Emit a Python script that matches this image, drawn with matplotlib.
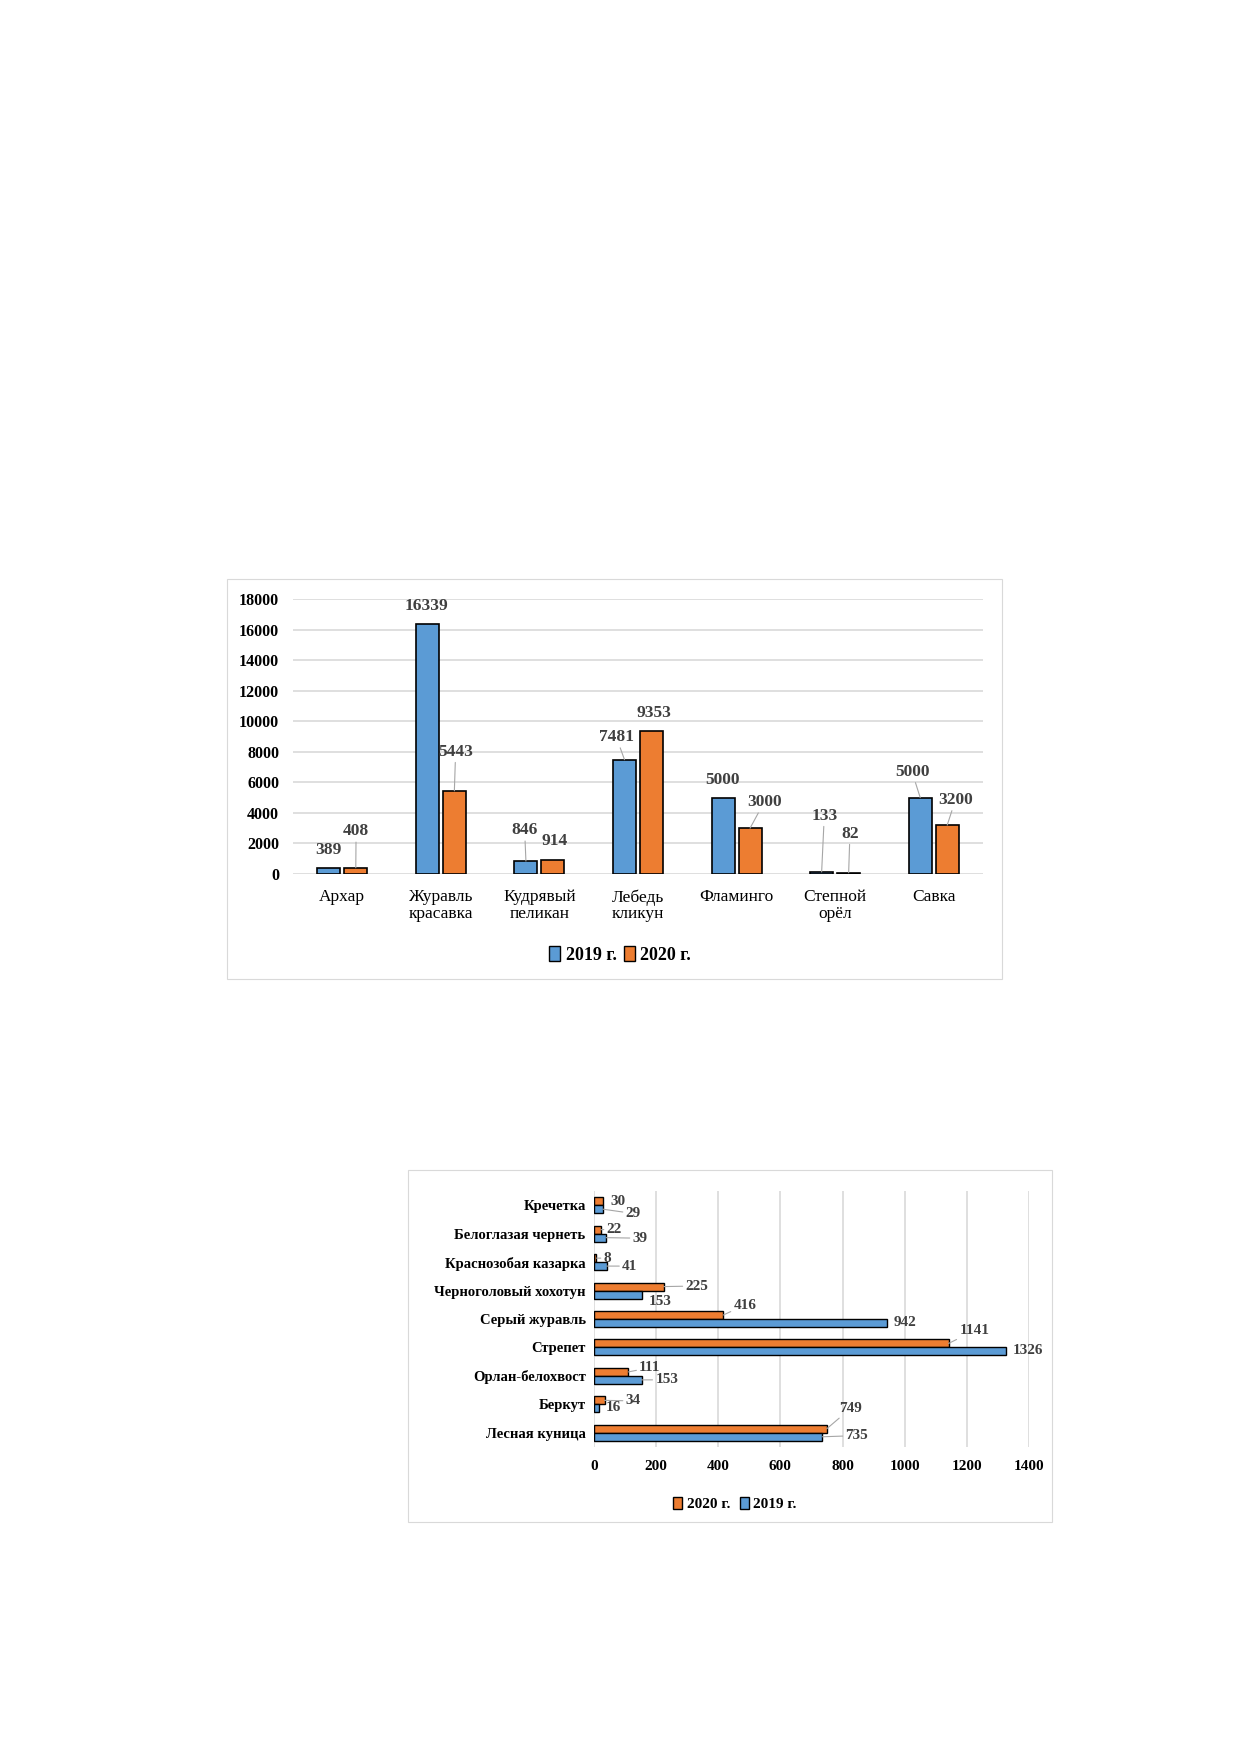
import matplotlib
matplotlib.use("Agg")
import matplotlib.pyplot as plt
from matplotlib.patches import Rectangle, Patch
import numpy as np

plt.rcParams['font.family'] = ['Liberation Serif', 'DejaVu Serif']

# ---------------- data: chart 1 ----------------
cats1 = ["Архар", "Журавль\nкрасавка", "Кудрявый\nпеликан", "Лебедь\nкликун",
         "Фламинго", "Степной\nорёл", "Савка"]
v2019_1 = [389, 16339, 846, 7481, 5000, 133, 5000]
v2020_1 = [408, 5443, 914, 9353, 3000, 82, 3200]
yticks1 = [0, 2000, 4000, 6000, 8000, 10000, 12000, 14000, 16000, 18000]

# label placement (positions only): (dx in category units, y in data units, leader?)
lab2019_1 = [(-0.14, 1543, False), (-0.15, 17560, False), (-0.15, 2865, True),
             (-0.22, 8963, True), (-0.14, 6171, False), (-0.11, 3820, True),
             (-0.22, 6686, True)]
lab2020_1 = [(0.14, 2792, True), (0.15, 8008, True), (0.15, 2130, False),
             (0.16, 10506, False), (0.28, 4702, True), (0.15, 2645, True),
             (0.22, 4849, True)]

# ---------------- data: chart 2 ----------------
cats2 = ["Лесная куница", "Беркут", "Орлан-белохвост", "Стрепет", "Серый журавль",
         "Черноголовый хохотун", "Краснозобая казарка", "Белоглазая чернеть", "Кречетка"]
v2020_2 = [749, 34, 111, 1141, 416, 225, 8, 22, 30]
v2019_2 = [735, 16, 153, 1326, 942, 153, 41, 39, 29]
xticks2 = [0, 200, 400, 600, 800, 1000, 1200, 1400]

# label placement (positions only): (x in data units, dy in category units, leader?)
lab2020_2 = [(824, 0.84, True), (126, 0.12, True), (180, 0.29, True), (1224, 0.59, True),
             (486, 0.49, True), (331, 0.16, True), (43, 0.14, True), (65, 0.16, True),
             (76, 0.14, False)]
lab2019_2 = [(846, -0.10, True), (61, -0.12, False), (234, -0.14, True), (1396, -0.12, False),
             (1000, -0.14, False), (212, -0.39, False), (115, -0.14, True), (148, -0.16, True),
             (126, -0.29, True)]

BLUE = "#5B9BD5"
ORANGE = "#ED7D31"
GRID = "#D9D9D9"
LEAD = "#A6A6A6"
LABC = "#404040"

W, H = 1240, 1754
fig = plt.figure(figsize=(W / 100, H / 100), dpi=100)
fig.patch.set_facecolor("white")

def fx(px):
    return px / W

def fy(py):
    return 1 - py / H

# frames
for (x0, y0, x1, y1) in [(227, 579, 1002, 979), (408, 1170, 1052, 1522)]:
    fig.patches.append(Rectangle((fx(x0), fy(y1)), fx(x1) - fx(x0), fy(y0) - fy(y1),
                                 transform=fig.transFigure, fill=False,
                                 edgecolor="#D9D9D9", linewidth=0.8))

# ---------------- chart 1 ----------------
ax1 = fig.add_axes([fx(293), fy(874), fx(983) - fx(293), fy(599) - fy(874)])
x = np.arange(len(cats1))
bw = 0.234
off = 0.137
ax1.bar(x - off, v2019_1, bw, color=BLUE, edgecolor="black", linewidth=1.2, zorder=3)
ax1.bar(x + off, v2020_1, bw, color=ORANGE, edgecolor="black", linewidth=1.2, zorder=3)
ax1.set_xlim(-0.5, len(cats1) - 0.5)
ax1.set_ylim(0, 18000)
ax1.set_yticks(yticks1)
ax1.set_yticklabels([str(t) for t in yticks1], fontsize=11.5, fontweight="bold")
ax1.set_xticks(x)
ax1.set_xticklabels(cats1, fontsize=12.5, linespacing=1.05)
ax1.yaxis.grid(True, color=GRID, linewidth=1.2, zorder=0)
for s in ax1.spines.values():
    s.set_visible(False)
ax1.tick_params(axis="both", length=0)
ax1.tick_params(axis="x", pad=11)
ax1.tick_params(axis="y", pad=10)

for i in range(len(cats1)):
    for vals, labs, sgn in [(v2019_1, lab2019_1, -1), (v2020_1, lab2020_1, 1)]:
        dx, ly, lead = labs[i]
        xb = i + sgn * off
        if lead:
            ax1.annotate(str(vals[i]), xy=(xb, vals[i]), xytext=(i + dx, ly),
                         ha="center", va="center", fontsize=12.5, fontweight="bold",
                         color=LABC, zorder=5,
                         arrowprops=dict(arrowstyle="-", color=LEAD, lw=0.8,
                                         shrinkA=0, shrinkB=0))
        else:
            ax1.text(i + dx, ly, str(vals[i]), ha="center", va="center",
                     fontsize=12.5, fontweight="bold", color=LABC, zorder=5)

h1 = [Patch(facecolor=BLUE, edgecolor="black", label="2019 г."),
      Patch(facecolor=ORANGE, edgecolor="black", label="2020 г.")]
fig.legend(handles=h1, loc="center", bbox_to_anchor=(fx(620), fy(955)), ncol=2,
           frameon=False, prop={"size": 13, "weight": "bold"},
           handlelength=0.6, handleheight=0.9, handletextpad=0.3, columnspacing=0.4)

# ---------------- chart 2 ----------------
ax2 = fig.add_axes([fx(594), fy(1447), fx(1029) - fx(594), fy(1191) - fy(1447)])
y = np.arange(len(cats2))
bh = 0.28
ax2.barh(y + bh / 2, v2020_2, bh, color=ORANGE, edgecolor="black", linewidth=1.0, zorder=3)
ax2.barh(y - bh / 2, v2019_2, bh, color=BLUE, edgecolor="black", linewidth=1.0, zorder=3)
ax2.set_ylim(-0.5, len(cats2) - 0.5)
ax2.set_xlim(0, 1400)
ax2.set_xticks(xticks2)
ax2.set_xticklabels([str(t) for t in xticks2], fontsize=11, fontweight="bold")
ax2.set_yticks(y)
ax2.set_yticklabels(cats2, fontsize=10.5, fontweight="bold")
ax2.xaxis.grid(True, color=GRID, linewidth=1.2, zorder=0)
for s in ax2.spines.values():
    s.set_visible(False)
ax2.tick_params(axis="both", length=0)
ax2.tick_params(axis="x", pad=9)
ax2.tick_params(axis="y", pad=6)

for j in range(len(cats2)):
    for vals, labs, sgn in [(v2020_2, lab2020_2, 1), (v2019_2, lab2019_2, -1)]:
        lx, dy, lead = labs[j]
        yb = j + sgn * bh / 2
        if lead:
            ax2.annotate(str(vals[j]), xy=(vals[j], yb), xytext=(lx, j + dy),
                         ha="center", va="center", fontsize=11, fontweight="bold",
                         color=LABC, zorder=5,
                         arrowprops=dict(arrowstyle="-", color=LEAD, lw=0.8,
                                         shrinkA=0, shrinkB=0))
        else:
            ax2.text(lx, j + dy, str(vals[j]), ha="center", va="center",
                     fontsize=11, fontweight="bold", color=LABC, zorder=5)

h2 = [Patch(facecolor=ORANGE, edgecolor="black", label="2020 г."),
      Patch(facecolor=BLUE, edgecolor="black", label="2019 г.")]
fig.legend(handles=h2, loc="center", bbox_to_anchor=(fx(735), fy(1504)), ncol=2,
           frameon=False, prop={"size": 11, "weight": "bold"},
           handlelength=0.6, handleheight=0.9, handletextpad=0.3, columnspacing=0.6)

fig.savefig("out.png", dpi=100, facecolor="white")
